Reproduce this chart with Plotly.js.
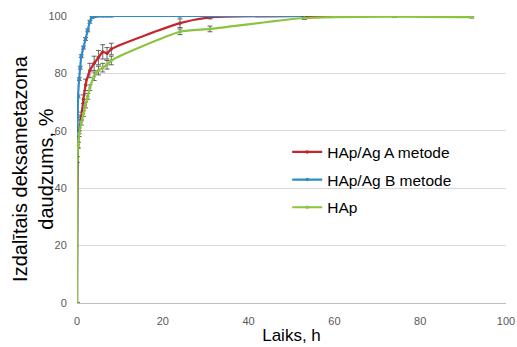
<!DOCTYPE html>
<html>
<head>
<meta charset="utf-8">
<script src="https://cdn.plot.ly/plotly-3.0.1.min.js"></script>
<style>html,body{margin:0;padding:0;background:#fff;}#chart{width:517px;height:347px;}</style>
</head>
<body>
<div id="chart"></div>
<script>
// Series A (HAp/Ag A metode)
var timeA = [0, 0.25, 0.5, 1, 1.5, 2, 3, 4, 5, 6, 7, 8, 24, 31, 53, 74];
var valA  = [0, 55, 60, 65, 71, 76, 81, 83.5, 85.5, 87.5, 87, 88.5, 97.5, 99.5, 100, 100];
var errA  = [0, 1, 1, 1.5, 1.5, 2, 2.5, 2.5, 2.5, 2.5, 2, 2, 1.5, 0.5, 0.3, 0.3];
// Series B (HAp/Ag B metode)
var timeB = [0, 0.08, 0.17, 0.25, 0.5, 0.75, 1, 1.5, 2, 2.5, 3, 3.5, 4, 5, 6, 7, 8, 24, 31, 53];
var valB  = [0, 58, 65, 72, 78, 82, 86, 89, 92, 95, 98, 99.5, 99.8, 100, 100, 100, 100, 100, 100, 100];
var errB  = [0, 0.5, 0.5, 0.5, 0.5, 0.5, 0.5, 0.5, 0.5, 0.5, 0.5, 0.3, 0.3, 0.3, 0.3, 0.3, 0.3, 0.3, 0.3, 0.3];
// Series HAp
var timeH = [0, 0.08, 0.25, 0.5, 1, 1.5, 2, 2.5, 3, 4, 5, 6, 7, 8, 24, 31, 53, 74, 92];
var valH  = [0, 50, 55, 59, 63, 66, 69, 72, 75, 79, 81, 82, 83, 84.5, 94.5, 95.5, 99.3, 99.8, 99.6];
var errH  = [0, 1, 1, 1, 1, 1, 1, 1, 1, 1.5, 1.5, 1.5, 1.5, 1.5, 1, 1, 0.5, 0.3, 0.3];

var names = ['HAp/Ag A metode', 'HAp/Ag B metode', 'HAp'];
var colors = ['#c0282d', '#2e8bc8', '#8bc43f'];
var yTitle = 'Izdalītais deksametazona<br>daudzums, %';
var xTitle = 'Laiks, h';
var xs = [timeA, timeB, timeH], ys = [valA, valB, valH], es = [errA, errB, errH];

var traces = [];
for (var i = 0; i < 3; i++) {
  traces.push({
    x: xs[i], y: ys[i], name: names[i], type: 'scatter', mode: 'lines+markers',
    legendgroup: 'g' + i,
    line: {color: colors[i], width: 2.2, shape: 'spline', smoothing: 0.6},
    marker: {color: colors[i], size: 3.5},
    error_y: {type: 'data', array: es[i], visible: true, color: '#404040', thickness: 0.8, width: 2.5}
  });
}

var layout = {
  width: 517, height: 347,
  margin: {l: 77, r: 11, t: 16, b: 44},
  paper_bgcolor: '#fff', plot_bgcolor: '#fff',
  font: {family: 'Liberation Sans, Arial, sans-serif', color: '#595959'},
  showlegend: true,
  legend: {
    x: 0.49, y: 0.584, xanchor: 'left', yanchor: 'top',
    bgcolor: 'rgba(0,0,0,0)', traceorder: 'grouped', tracegroupgap: 4.5,
    font: {size: 15.5, color: '#000', family: 'Liberation Sans, Arial, sans-serif'}
  },
  xaxis: {
    range: [0, 100], dtick: 20, showgrid: false, zeroline: false,
    showline: false, ticks: 'outside', ticklen: 8, tickcolor: 'rgba(0,0,0,0)',
    tickfont: {size: 11, color: '#595959'}, automargin: false,
    title: {text: xTitle, font: {size: 17, color: '#000'}, standoff: 2}
  },
  yaxis: {
    range: [0, 100], dtick: 20, showgrid: true, gridcolor: '#d9d9d9', gridwidth: 1,
    zeroline: true, zerolinecolor: '#bfbfbf', zerolinewidth: 1,
    showline: false, ticks: 'outside', ticklen: 7, tickcolor: 'rgba(0,0,0,0)',
    tickfont: {size: 11, color: '#595959'}, automargin: false
  },
  annotations: [{
    text: yTitle, xref: 'paper', yref: 'paper', x: -0.103, y: 0.47,
    xanchor: 'center', yanchor: 'middle', textangle: -90, showarrow: false,
    font: {size: 20, color: '#000', family: 'Liberation Sans, Arial, sans-serif'}
  }]
};

Plotly.newPlot('chart', traces, layout, {displayModeBar: false, staticPlot: true});
</script>
</body>
</html>
